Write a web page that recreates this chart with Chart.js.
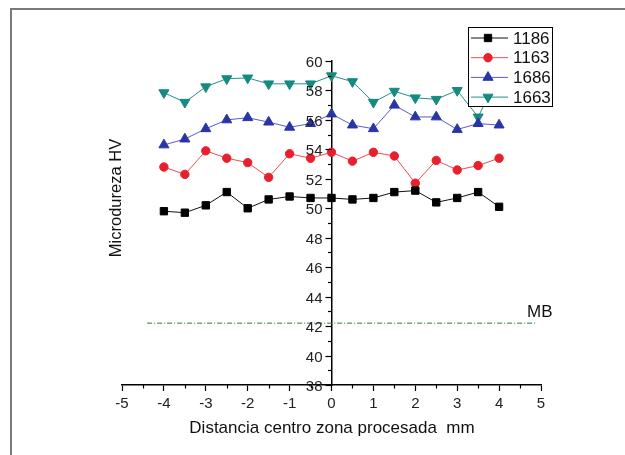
<!DOCTYPE html>
<html>
<head>
<meta charset="utf-8">
<script src="https://cdn.jsdelivr.net/npm/chart.js@4"></script>
<style>
  html, body { margin: 0; padding: 0; background: #fff; }
  #wrap { position: relative; width: 625px; height: 455px; }
</style>
</head>
<body>
<div id="wrap"><canvas id="c" width="625" height="455"></canvas></div>
<script>
// ─── Data ───
const distances = [-4, -3.5, -3, -2.5, -2, -1.5, -1, -0.5, 0, 0.5, 1, 1.5, 2, 2.5, 3, 3.5, 4];
const hv1186 = [49.8, 49.7, 50.2, 51.1, 50.0, 50.6, 50.8, 50.7, 50.7, 50.6, 50.7, 51.1, 51.2, 50.4, 50.7, 51.1, 50.1];
const hv1163 = [52.8, 52.3, 53.9, 53.4, 53.1, 52.1, 53.7, 53.4, 53.8, 53.2, 53.8, 53.55, 51.7, 53.25, 52.6, 52.9, 53.4];
const hv1686 = [54.3, 54.7, 55.4, 56.0, 56.15, 55.85, 55.5, 55.75, 56.4, 55.65, 55.4, 57.0, 56.2, 56.2, 55.35, 55.75, 55.65];
const hv1663 = [57.85, 57.2, 58.25, 58.8, 58.85, 58.45, 58.45, 58.45, 59.0, 58.6, 57.2, 57.95, 57.5, 57.4, 58.0, 56.2, 59.1];
const mbX = [-4.4, 4.9];
const mbY = [42.2, 42.2];
const xTicks = [-5, -4, -3, -2, -1, 0, 1, 2, 3, 4, 5];
const yTicks = [38, 40, 42, 44, 46, 48, 50, 52, 54, 56, 58, 60];

const FONT = '"Liberation Sans", Arial, sans-serif';

function pts(ys) {
  return distances.map((x, i) => ({ x, y: ys[i] }));
}

const series = [
  { label: '1186', data: hv1186, line: '#111', point: '#000', style: 'rect', radius: 5.2, rotation: 0 },
  { label: '1163', data: hv1163, line: '#ef4a55', point: '#e8202e', style: 'circle', radius: 4.2, rotation: 0 },
  { label: '1686', data: hv1686, line: '#5a5ad0', point: '#2a35a5', style: 'triangle', radius: 5.8, rotation: 0 },
  { label: '1663', data: hv1663, line: '#1f9088', point: '#168a80', style: 'triangle', radius: 5.8, rotation: 180 },
];

const datasets = series.map(s => ({
  label: s.label,
  data: pts(s.data),
  borderColor: s.line,
  borderWidth: 1,
  backgroundColor: s.point,
  pointBackgroundColor: s.point,
  pointBorderColor: s.point,
  pointBorderWidth: 1,
  pointStyle: s.style,
  pointRadius: s.radius,
  pointRotation: s.rotation,
  tension: 0,
}));

datasets.unshift({
  label: 'MB',
  data: mbX.map((x, i) => ({ x, y: mbY[i] })),
  borderColor: '#2b7a3c',
  borderWidth: 1,
  borderDash: [5, 2, 1, 2],
  pointRadius: 0,
  tension: 0,
});

// ─── Custom drawing: y-axis ticks/labels, minor ticks, titles, legend, MB label ───
const decorations = {
  id: 'decorations',
  afterDraw(chart) {
    const { ctx, scales: { x, y } } = chart;
    ctx.save();
    ctx.strokeStyle = '#000';
    ctx.lineWidth = 1.2;
    // x minor ticks
    for (let v = -4.5; v <= 4.5; v += 1) {
      const px = Math.round(x.getPixelForValue(v)) + 0.5;
      ctx.beginPath();
      ctx.moveTo(px, y.bottom);
      ctx.lineTo(px, y.bottom + 3.5);
      ctx.stroke();
    }
    // y ticks (major + minor) on the axis at x = 0
    const axX = x.getPixelForValue(0);
    for (let v = 39; v <= 59; v += 2) {
      const py = Math.round(y.getPixelForValue(v)) + 0.5;
      ctx.beginPath();
      ctx.moveTo(axX, py);
      ctx.lineTo(axX - 3.5, py);
      ctx.stroke();
    }
    ctx.fillStyle = '#222';
    ctx.font = '15px ' + FONT;
    ctx.textAlign = 'right';
    ctx.textBaseline = 'middle';
    yTicks.forEach(v => {
      const py = Math.round(y.getPixelForValue(v)) + 0.5;
      ctx.beginPath();
      ctx.moveTo(axX, py);
      ctx.lineTo(axX - 6, py);
      ctx.stroke();
      ctx.fillText(String(v), axX - 9, py + 1);
    });

    // axis titles
    ctx.fillStyle = '#111';
    ctx.font = '17px ' + FONT;
    ctx.textAlign = 'center';
    ctx.fillText('Distancia centro zona procesada  mm', 332, 428);
    ctx.save();
    ctx.translate(116, 198);
    ctx.rotate(-Math.PI / 2);
    ctx.font = '16.5px ' + FONT;
    ctx.fillText('Microdureza HV', 0, 0);
    ctx.restore();

    // MB label
    ctx.textAlign = 'left';
    ctx.font = '17px ' + FONT;
    ctx.fillText('MB', 527, 312);

    // legend box
    const bx = 468, by = 27, bw = 84, bh = 79;
    ctx.fillStyle = '#fff';
    ctx.fillRect(bx, by, bw, bh);
    ctx.strokeStyle = '#000';
    ctx.lineWidth = 1;
    ctx.strokeRect(bx + 0.5, by + 0.5, bw, bh);
    series.forEach((s, i) => {
      const ry = by + 11 + i * 19.7;
      ctx.strokeStyle = s.line;
      ctx.lineWidth = 1;
      ctx.beginPath();
      ctx.moveTo(bx + 3, ry);
      ctx.lineTo(bx + 40, ry);
      ctx.stroke();
      ctx.fillStyle = s.point;
      ctx.strokeStyle = s.point;
      Chart.helpers.drawPoint(ctx, {
        pointStyle: s.style, radius: s.radius, rotation: s.rotation, borderWidth: 1,
      }, bx + 20, ry);
      ctx.fillStyle = '#111';
      ctx.font = '17px ' + FONT;
      ctx.textAlign = 'left';
      ctx.textBaseline = 'middle';
      ctx.fillText(s.label, bx + 45, ry + 1);
    });

    // outer frame
    ctx.strokeStyle = '#7a7a7a';
    ctx.lineWidth = 2;
    ctx.beginPath();
    ctx.moveTo(11, 455);
    ctx.lineTo(11, 9);
    ctx.lineTo(625, 9);
    ctx.stroke();
    ctx.restore();
  },
};

new Chart(document.getElementById('c'), {
  type: 'line',
  data: { datasets },
  options: {
    responsive: false,
    animation: false,
    layout: { padding: { left: 122, right: 84, top: 61, bottom: 38 } },
    plugins: {
      legend: { display: false },
      tooltip: { enabled: false },
    },
    scales: {
      x: {
        type: 'linear',
        min: -5,
        max: 5,
        afterBuildTicks: axis => { axis.ticks = xTicks.map(v => ({ value: v })); },
        ticks: { color: '#222', font: { family: FONT, size: 15 }, padding: 4, maxRotation: 0 },
        grid: { drawOnChartArea: false, tickLength: 6, color: '#000', tickWidth: 1.2 },
        border: { display: true, color: '#000', width: 1.5 },
      },
      y: {
        type: 'linear',
        position: { x: 0 },
        min: 38,
        max: 60,
        afterBuildTicks: axis => { axis.ticks = yTicks.map(v => ({ value: v })); },
        ticks: { display: false },
        grid: { display: false },
        border: { display: true, color: '#000', width: 1.5 },
      },
    },
  },
  plugins: [decorations],
});
</script>
</body>
</html>
